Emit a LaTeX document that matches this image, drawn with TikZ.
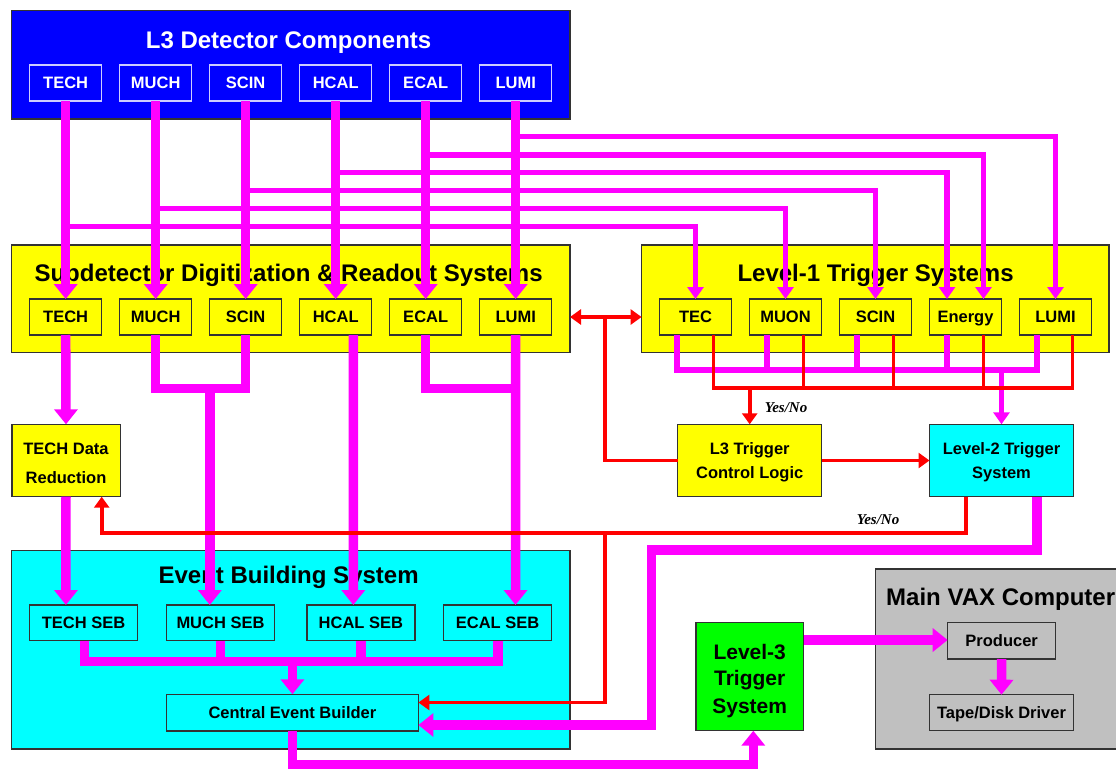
\documentclass[tikz,border=0pt]{standalone}
\usepackage{fontspec}
\setmainfont{Liberation Sans}
\newfontfamily\yesnofont{Liberation Serif}
\usetikzlibrary{arrows.meta,calc}

\definecolor{detblue}{RGB}{0,0,255}
\definecolor{ryellow}{RGB}{255,255,0}
\definecolor{mag}{RGB}{255,0,255}
\definecolor{sigred}{RGB}{255,0,0}
\definecolor{ebcyan}{RGB}{0,255,255}
\definecolor{lvgreen}{RGB}{0,255,0}
\definecolor{vaxgray}{RGB}{192,192,192}
\definecolor{edge}{RGB}{51,51,51}
\definecolor{paleedge}{RGB}{205,205,255}

\tikzset{
  container/.style={draw=edge, line width=1.3pt, inner sep=0pt, outer sep=0pt},
  title/.style={font=\bfseries\fontsize{24}{28}\selectfont, text height=17.2pt, text depth=0pt, inner sep=0pt},
  unit/.style={draw=edge, line width=1.4pt, minimum width=72pt, minimum height=36pt, inner sep=0pt, outer sep=0pt,
    font=\bfseries\fontsize{16.5}{19}\selectfont, text height=11.8pt, text depth=0pt},
  detunit/.style={unit, draw=paleedge, fill=detblue, text=white},
  rounit/.style={unit, fill=ryellow},
  txtline/.style={inner sep=0pt, font=\bfseries\fontsize{16.5}{19}\selectfont, text height=11.8pt, text depth=0pt},
  bigline/.style={inner sep=0pt, font=\bfseries\fontsize{21}{24}\selectfont, text height=15pt, text depth=0pt},
  yesno/.style={inner sep=0pt, font=\yesnofont\bfseries\itshape\fontsize{15}{17}\selectfont},
  thickflow/.style={draw=mag, line width=9.5pt, line join=miter},
  thinflow/.style={draw=mag, line width=5.5pt, line join=miter},
  signal/.style={draw=sigred, line width=3.8pt, line join=miter},
  mtip/.tip={Triangle[width=23pt,length=15pt]},
  stip/.tip={Triangle[width=16pt,length=12pt]},
  rtip/.tip={Triangle[width=15pt,length=11pt]},
}

\begin{document}
\begin{tikzpicture}[x=1pt,y=-1pt]
\useasboundingbox (0,0) rectangle (1116,769);

% ---------- containers ----------
\node[container, fill=detblue, minimum width=558.2pt, minimum height=108.3pt] (det) at (290.9,64.85) {};
\node[container, fill=ryellow, minimum width=558.2pt, minimum height=107.7pt] (ro) at (290.9,298.85) {};
\node[container, fill=ryellow, minimum width=467.4pt, minimum height=107.7pt] (lvone) at (875.3,298.85) {};
\node[container, fill=ebcyan, minimum width=558.2pt, minimum height=198.3pt] (eb) at (290.9,649.85) {};
\node[container, fill=vaxgray, minimum width=264.4pt, minimum height=180pt] (vax) at (1007.8,659) {};

% ---------- titles ----------
\node[title, text=white] (dettitle) at (288.6,40) {L3 Detector Components};
\node[title] (rotitle) at (288.6,273) {Subdetector Digitization \& Readout Systems};
\node[title] (lvonetitle) at (875.6,273) {Level-1 Trigger Systems};
\node[title] (ebtitle) at (288.6,575) {Event Building System};
\node[title, anchor=west] (vaxtitle) at (886,597) {Main VAX Computer};

% ---------- detector components and readout units ----------
\foreach \n/\lab [count=\i from 0] in {1/TECH,2/MUCH,3/SCIN,4/HCAL,5/ECAL,6/LUMI}{
  \node[detunit] (d\n) at ({65.7+90*\i},83) {\lab};
  \node[rounit] (r\n) at ({65.7+90*\i},317) {\lab};
}

% ---------- level-1 trigger units ----------
\foreach \n/\lab [count=\i from 0] in {1/TEC,2/MUON,3/SCIN,4/Energy,5/LUMI}{
  \node[rounit] (t\n) at ({695.5+90*\i},317) {\lab};
}

% ---------- other blocks ----------
\node[container, draw=edge, line width=1.4pt, fill=ryellow, minimum width=108.4pt, minimum height=72.4pt] (tdr) at (66,460.5) {};
\node[txtline] (tdrA) at (66,448.3) {TECH Data};
\node[txtline] (tdrB) at (66,477.3) {Reduction};

\node[container, draw=edge, line width=1.4pt, fill=ryellow, minimum width=144pt, minimum height=72.4pt] (tcl) at (749.7,460.5) {};
\node[txtline] (tclA) at (749.7,448.3) {L3 Trigger};
\node[txtline] (tclB) at (749.7,472.7) {Control Logic};

\node[container, draw=edge, line width=1.4pt, fill=ebcyan, minimum width=144pt, minimum height=72.4pt] (lvtwo) at (1001.5,460.5) {};
\node[txtline] (lvtwoA) at (1001.5,448.3) {Level-2 Trigger};
\node[txtline] (lvtwoB) at (1001.5,472.7) {System};

\foreach \n/\lab/\x in {1/TECH SEB/83.6,2/MUCH SEB/220.5,3/HCAL SEB/360.9,4/ECAL SEB/497.6}{
  \node[rounit, fill=ebcyan, minimum width=108pt, minimum height=35.7pt] (s\n) at (\x,622.85) {\lab};
}
\node[rounit, fill=ebcyan, minimum width=251.9pt, minimum height=36.7pt] (ceb) at (292.45,712.65) {Central Event Builder};

\node[container, draw=edge, line width=1.4pt, fill=lvgreen, minimum width=107.8pt, minimum height=108pt] (lvthree) at (749.7,676.7) {};
\node[bigline] (lvthreeA) at (749.7,651.7) {Level-3};
\node[bigline] (lvthreeB) at (749.7,678.3) {Trigger};
\node[bigline] (lvthreeC) at (749.7,705.7) {System};

\node[rounit, fill=vaxgray, minimum width=108pt, minimum height=36.3pt] (prod) at (1001.65,640.85) {Producer};
\node[rounit, fill=vaxgray, minimum width=144pt, minimum height=36pt] (tape) at (1001.5,712.7) {Tape/Disk Driver};

% ---------- data flow: detector to readout and level-1 ----------
\foreach \n in {1,...,6}{
  \draw[thickflow, -{mtip}] (d\n.south) -- (r\n.north);
}
\draw[thinflow, -{stip}] (d1.south |- 0,226.7) -| (t1.north);
\draw[thinflow, -{stip}] (d2.south |- 0,208.7) -| (t2.north);
\draw[thinflow, -{stip}] (d3.south |- 0,190.7) -| (t3.north);
\draw[thinflow, -{stip}] (d4.south |- 0,172.7) -| ([xshift=-18.5pt]t4.north);
\draw[thinflow, -{stip}] (d5.south |- 0,155) -| ([xshift=18pt]t4.north);
\draw[thinflow, -{stip}] (d6.south |- 0,136.7) -| (t5.north);

% ---------- readout to event building ----------
\draw[thickflow, -{mtip}] (r1.south) -- (tdr.north);
\draw[thickflow, -{mtip}] (tdr.south) -- ([xshift=-17.7pt]s1.north);
\draw[thickflow] (r2.south) -- (r2.south |- 0,388.5) -| (r3.south);
\draw[thickflow, -{mtip}] (209.8,388.5) -- ([xshift=-10.7pt]s2.north);
\draw[thickflow, -{mtip}] ([xshift=17.6pt]r4.south) -- ([xshift=-7.6pt]s3.north);
\draw[thickflow] (r5.south) -- (r5.south |- 0,388.5) -- (r6.south |- 0,388.5);
\draw[thickflow, -{mtip}] (r6.south) -- ([xshift=17.9pt]s4.north);

% ---------- event building ----------
\draw[thickflow] ([xshift=0.8pt]s1.south) -- ([xshift=0.8pt]s1.south |- 0,661.7) -- ([xshift=0.4pt]s4.south |- 0,661.7) -- ([xshift=0.4pt]s4.south);
\draw[thickflow] (s2.south) -- (s2.south |- 0,661.7);
\draw[thickflow] (s3.south) -- (s3.south |- 0,661.7);
\draw[thickflow, -{mtip}] (ceb.north |- 0,661.7) -- (ceb.north);

% ---------- level-1 outputs ----------
\draw[thinflow] ([xshift=-18.5pt]t1.south) -- ([xshift=-18.5pt]t1.south |- 0,370) -- ([xshift=-18.5pt]t5.south |- 0,370) -- ([xshift=-18.5pt]t5.south);
\foreach \n in {2,3,4}{
  \draw[thinflow] ([xshift=-18.5pt]t\n.south) -- ([xshift=-18.5pt]t\n.south |- 0,370);
}
\draw[thinflow, -{stip}] (lvtwo.north |- 0,370) -- (lvtwo.north);

% ---------- level-2 to central event builder, level-3 and VAX ----------
\draw[thickflow, -{mtip}] ([xshift=35.5pt]lvtwo.south) |- (651.5,550) -- (651.5,725) -- (ceb.east |- 0,725);
\draw[thickflow, -{mtip}] (ceb.south) |- (753.3,764.3) -- ([xshift=3.6pt]lvthree.south);
\draw[thickflow, -{mtip}] (lvthree.east |- 0,640) -- (prod.west |- 0,640);
\draw[thickflow, -{mtip}] (prod.south) -- (tape.north);

% ---------- trigger decision signals ----------
\draw[signal] ([xshift=18pt]t1.south) -- ([xshift=18pt]t1.south |- 0,387.7) -- ([xshift=17pt]t5.south |- 0,387.7) -- ([xshift=17pt]t5.south);
\foreach \n in {2,3,4}{
  \draw[signal] ([xshift=18pt]t\n.south) -- ([xshift=18pt]t\n.south |- 0,387.7);
}
\draw[signal, -{rtip}] (tcl.north |- 0,387.7) -- (tcl.north);
\node[yesno] (yesnoA) at (786,408) {Yes/No};

\draw[signal, {rtip}-{rtip}] (ro.east |- 0,317) -- (lvone.west |- 0,317);
\draw[signal] (605,317) |- (tcl.west);
\draw[signal, -{rtip}] (tcl.east) -- (lvtwo.west);

\draw[signal, -{rtip}] ([xshift=-35.5pt]lvtwo.south) |- (101.7,533.3) -- (tdr.south -| 101.7,0);
\node[yesno] (yesnoB) at (878,520) {Yes/No};
\draw[signal, -{rtip}] (605,533.3) |- (ceb.east |- 0,702.5);
\end{tikzpicture}
\end{document}
